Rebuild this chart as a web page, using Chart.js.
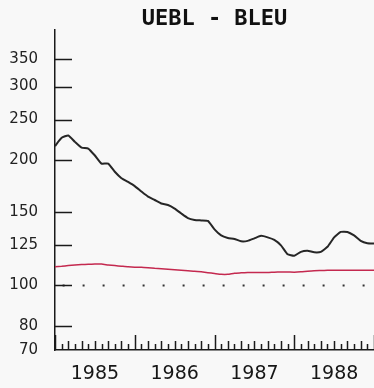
<!DOCTYPE html>
<html>
<head>
<meta charset="utf-8">
<title>UEBL - BLEU</title>
<script src="https://cdn.jsdelivr.net/npm/chart.js@4.4.1/dist/chart.umd.min.js"></script>
<style>
  body { margin: 0; background: #f8f8f8; }
  canvas { display: block; }
</style>
</head>
<body>
<canvas id="myChart" width="374" height="388"></canvas>
<script>
// monthly index values, Jan 1985 .. Jan 1989
const startYear = 1985;
const endYear = 1989;
const years = [1985, 1986, 1987, 1988];
const yTicks = [70, 80, 100, 125, 150, 200, 250, 300, 350];
const baseLevel = 100;

const blackSeries = [
  216, 226, 229, 221, 214, 213, 205, 196, 196, 187.4, 180.8, 177.1,
  173.1, 168, 163.3, 160.3, 157.2, 155.9, 152.9, 148.8, 145.1, 143.6, 143.2, 142.8,
  136.3, 131.8, 130.0, 129.3, 127.6, 127.9, 129.7, 131.5, 130.4, 128.6, 124.8, 118.8,
  117.8, 120.4, 121.1, 120.1, 120.4, 123.8, 130.4, 134.4, 134.4, 131.8, 127.9, 126.2,
  126.0
];
const redSeries = [
  110.9, 111.2, 111.6, 111.9, 112.2, 112.4, 112.6, 112.5, 112.0, 111.6, 111.2, 110.8,
  110.6, 110.6, 110.3, 109.9, 109.6, 109.3, 109.0, 108.7, 108.4, 108.2, 107.8, 107.3,
  106.8, 106.3, 106.3, 107.0, 107.2, 107.4, 107.4, 107.4, 107.4, 107.6, 107.7, 107.7,
  107.6, 107.8, 108.2, 108.5, 108.6, 108.7, 108.8, 108.8, 108.8, 108.7, 108.7, 108.8,
  108.8
];

function toPoints(values){
  let pts = [];
  for (let i = 0; i < values.length; i++){
    pts.push({x: startYear + i/12, y: values[i]});
  }
  return pts;
}

// inward tick marks on both axes
const axisMarks = {
  id: "axisMarks",
  afterDatasetsDraw(chart){
    const ctx = chart.ctx;
    const xs = chart.scales.x;
    const ys = chart.scales.y;
    const area = chart.chartArea;
    ctx.save();
    ctx.strokeStyle = "#1a1a1a";
    ctx.lineWidth = 1.5;
    ctx.beginPath();
    for (let i = 1; i < yTicks.length; i++){
      let py = Math.round(ys.getPixelForValue(yTicks[i])) + 0.5;
      ctx.moveTo(area.left, py);
      ctx.lineTo(area.left + 17, py);
    }
    let months = (endYear - startYear) * 12;
    for (let m = 0; m <= months; m++){
      let px = Math.round(xs.getPixelForValue(startYear + m/12)) + 0.5;
      let len = m % 12 === 0 ? 15 : (m % 2 === 0 ? 9 : 6);
      ctx.moveTo(px, area.bottom);
      ctx.lineTo(px, area.bottom - len);
    }
    ctx.stroke();
    ctx.restore();
  }
};

const data = {
  datasets: [
    {
      label: "UEBL",
      data: toPoints(blackSeries),
      borderColor: "#262626",
      borderWidth: 2,
      pointRadius: 0,
      tension: 0.15
    },
    {
      label: "BLEU",
      data: toPoints(redSeries),
      borderColor: "#c4294f",
      borderWidth: 1.5,
      pointRadius: 0,
      tension: 0.15
    },
    {
      label: "base",
      data: [{x: startYear, y: baseLevel}, {x: endYear, y: baseLevel}],
      borderColor: "#333",
      borderWidth: 2,
      borderDash: [2, 18],
      borderDashOffset: 12.4,
      pointRadius: 0
    }
  ]
};

const config = {
  type: "line",
  data: data,
  options: {
    responsive: false,
    animation: false,
    layout: {padding: 0},
    plugins: {
      legend: {display: false},
      tooltip: {enabled: false},
      title: {
        display: true,
        text: "UEBL - BLEU",
        fullSize: false,
        color: "#111",
        font: {family: "DejaVu Sans Mono", size: 22, weight: "bold", lineHeight: 1},
        padding: {top: 8, bottom: 0}
      }
    },
    scales: {
      x: {
        type: "linear",
        min: startYear,
        max: endYear,
        grid: {display: false, drawTicks: false, tickLength: 0},
        border: {display: true, color: "#1a1a1a", width: 1.5},
        afterBuildTicks: function(scale){
          scale.ticks = years.map(function(y){ return {value: y + 0.5}; });
        },
        afterFit: function(scale){ scale.height = 38; },
        ticks: {
          padding: 13,
          color: "#161616",
          font: {family: "DejaVu Sans", size: 19},
          maxRotation: 0,
          callback: function(v){ return String(Math.floor(v)); }
        }
      },
      y: {
        type: "logarithmic",
        min: 70,
        max: 410,
        grid: {display: false, drawTicks: false, tickLength: 0},
        border: {display: true, color: "#1a1a1a", width: 1.5},
        afterBuildTicks: function(scale){
          scale.ticks = yTicks.map(function(v){ return {value: v}; });
        },
        afterFit: function(scale){ scale.width = 55; },
        ticks: {
          padding: 17,
          color: "#222",
          font: {family: "DejaVu Sans", size: 15},
          callback: function(v){ return String(v); }
        }
      }
    }
  },
  plugins: [axisMarks]
};

const ctx = document.getElementById("myChart").getContext("2d");
let myChart = new Chart(ctx, config);
</script>
</body>
</html>
